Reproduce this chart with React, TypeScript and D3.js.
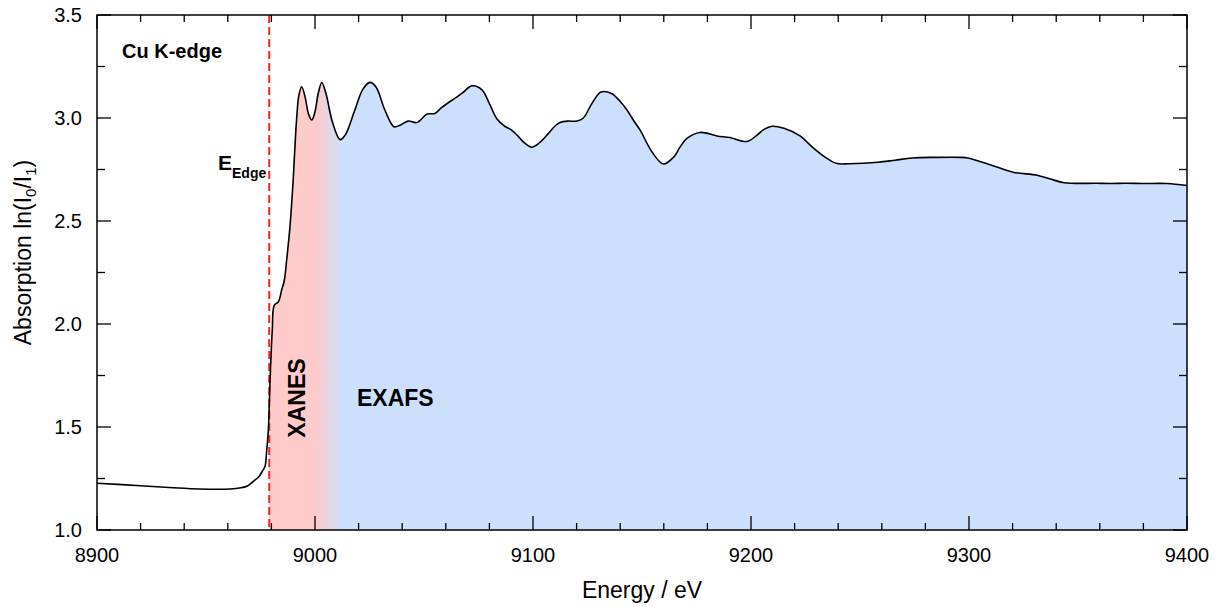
import React from "react";
import * as d3 from "d3";

const energy = [
  8900, 8920, 8935, 8947, 8961, 8966, 8969, 8972.5, 8974.3, 8976.1, 8977.1, 8977.8, 8978.6, 8979.4,
  8980.4, 8981.3, 8983.2, 8984.7, 8985.9, 8987.0, 8988.5, 8990.0, 8990.8, 8991.6, 8992.6, 8993.9,
  8995.5, 8997, 8998.5, 9000, 9001.5, 9003.1, 9005, 9008, 9011.5, 9014, 9018, 9022, 9025.2, 9028,
  9032, 9036.2, 9039, 9042.7, 9046.7, 9051.4, 9055, 9058, 9061.9, 9066.1, 9068, 9071.9, 9076.6,
  9080, 9083.5, 9087, 9089.9, 9092.7, 9096, 9099.4, 9103, 9106.4, 9110, 9112.4, 9116, 9120.2,
  9123.1, 9127, 9131.2, 9136.2, 9140, 9143.1, 9146, 9149.1, 9154.6, 9159.8, 9164.7, 9167.5,
  9170.6, 9176.6, 9184.4, 9190.4, 9198.2, 9202.8, 9206, 9209.6, 9215.1, 9222.5, 9228, 9234, 9239,
  9245, 9258.3, 9266, 9273.9, 9285, 9295.9, 9299.5, 9302.8, 9312, 9320.2, 9331.2, 9337, 9343.6,
  9358.7, 9365, 9372, 9380, 9390.8, 9400,
];

const absorption = [
  1.227, 1.215, 1.205, 1.199, 1.199, 1.205, 1.214, 1.243, 1.26, 1.29, 1.31, 1.38, 1.485, 1.73,
  1.97, 2.09, 2.108, 2.165, 2.21, 2.31, 2.47, 2.7, 2.86, 3.0, 3.11, 3.152,
  3.1, 3.02, 2.99, 3.03, 3.12, 3.172, 3.12, 2.98, 2.895, 2.92, 3.03, 3.14, 3.173, 3.15,
  3.04, 2.958, 2.965, 2.985, 2.978, 3.019, 3.022, 3.05, 3.08, 3.11, 3.125, 3.156, 3.137,
  3.07, 2.995, 2.96, 2.944, 2.917, 2.88, 2.858, 2.88, 2.917, 2.96, 2.978, 2.985, 2.985,
  3.0, 3.07, 3.126, 3.118, 3.08, 3.039, 2.99, 2.942, 2.835, 2.777, 2.812, 2.86,
  2.901, 2.93, 2.913, 2.905, 2.886, 2.917, 2.945, 2.96, 2.95, 2.913, 2.86, 2.81, 2.78,
  2.778, 2.785, 2.795, 2.806, 2.809, 2.809, 2.806, 2.796, 2.765, 2.737, 2.722, 2.705, 2.686,
  2.683, 2.682, 2.683, 2.682, 2.682, 2.672,
];

const xTickLabels = [8900, 9000, 9100, 9200, 9300, 9400];
const yTickLabels = [1.0, 1.5, 2.0, 2.5, 3.0, 3.5];
const edgeEnergy = 8979;
const xanesEnd = 9000;
const exafsStart = 9013;

const W = 1221;
const H = 607;
const L = 97, R = 1187, T = 15, B = 530;
const FONT = "'Liberation Sans', Arial, Helvetica, sans-serif";

export default function App() {
  const x = d3.scaleLinear().domain([8900, 9400]).range([L, R]);
  const y = d3.scaleLinear().domain([1.0, 3.5]).range([B, T]);
  const pts = energy.map((e, i) => [e, absorption[i]] as [number, number]);
  const curve = d3.curveCatmullRom.alpha(0.5);
  const line = d3.line<[number, number]>().x(d => x(d[0])).y(d => y(d[1])).curve(curve);
  const area = d3.area<[number, number]>().x(d => x(d[0])).y0(y(1.0)).y1(d => y(d[1])).curve(curve);

  const xMinor = d3.range(8900, 9400.1, 20).filter(v => v % 100 !== 0);
  const yMinor = d3.range(1.25, 3.5, 0.5);

  return (
    <div style={{ position: "absolute", left: 0, top: 0 }}>
      <svg width={W} height={H} style={{ display: "block", background: "#fff" }}>
        <defs>
          <linearGradient id="regionGrad" gradientUnits="userSpaceOnUse" x1={x(xanesEnd)} x2={x(exafsStart)} y1={0} y2={0}>
            <stop offset="0" stopColor="#ffcaca" />
            <stop offset="1" stopColor="#cce0fd" />
          </linearGradient>
          <clipPath id="edgeClip">
            <rect x={x(edgeEnergy)} y={T} width={R - x(edgeEnergy)} height={B - T} />
          </clipPath>
        </defs>
        <path d={area(pts) || ""} fill="url(#regionGrad)" clipPath="url(#edgeClip)" />
        <line x1={x(edgeEnergy)} x2={x(edgeEnergy)} y1={T} y2={B} stroke="#ff2222" strokeWidth={2} strokeDasharray="8,4" />
        <path d={line(pts) || ""} fill="none" stroke="#000" strokeWidth={1.6} strokeLinejoin="round" />

        {/* ticks */}
        {xTickLabels.map(v => (
          <g key={"xt" + v}>
            <line x1={x(v)} x2={x(v)} y1={B} y2={B - 14} stroke="#000" strokeWidth={1.3} />
            <line x1={x(v)} x2={x(v)} y1={T} y2={T + 14} stroke="#000" strokeWidth={1.3} />
            <text x={x(v)} y={562} textAnchor="middle" fontFamily={FONT} fontSize={20} fill="#000">{v}</text>
          </g>
        ))}
        {xMinor.map(v => (
          <g key={"xm" + v}>
            <line x1={x(v)} x2={x(v)} y1={B} y2={B - 7} stroke="#000" strokeWidth={1.3} />
            <line x1={x(v)} x2={x(v)} y1={T} y2={T + 7} stroke="#000" strokeWidth={1.3} />
          </g>
        ))}
        {yTickLabels.map(v => (
          <g key={"yt" + v}>
            <line x1={L} x2={L + 14} y1={y(v)} y2={y(v)} stroke="#000" strokeWidth={1.3} />
            <line x1={R} x2={R - 14} y1={y(v)} y2={y(v)} stroke="#000" strokeWidth={1.3} />
            <text x={82} y={y(v) + 7} textAnchor="end" fontFamily={FONT} fontSize={20} fill="#000">{v.toFixed(1)}</text>
          </g>
        ))}
        {yMinor.map(v => (
          <g key={"ym" + v}>
            <line x1={L} x2={L + 8} y1={y(v)} y2={y(v)} stroke="#000" strokeWidth={1.3} />
            <line x1={R} x2={R - 8} y1={y(v)} y2={y(v)} stroke="#000" strokeWidth={1.3} />
          </g>
        ))}
        <rect x={L} y={T} width={R - L} height={B - T} fill="none" stroke="#000" strokeWidth={1.5} />

        {/* axis titles */}
        <text x={(L + R) / 2} y={598} textAnchor="middle" fontFamily={FONT} fontSize={23} fill="#000">Energy / eV</text>
        <text transform={`translate(31,${(T + B) / 2 - 20}) rotate(-90)`} textAnchor="middle" fontFamily={FONT} fontSize={23} fill="#000">
          Absorption ln(I<tspan fontSize={15} dy={5}>0</tspan><tspan dy={-5}>/I</tspan><tspan fontSize={15} dy={5}>1</tspan><tspan dy={-5}>)</tspan>
        </text>

        {/* annotations */}
        <text x={122} y={58} fontFamily={FONT} fontSize={20} fontWeight="bold" fill="#000">Cu K-edge</text>
        <text x={218} y={170} fontFamily={FONT} fontSize={21} fontWeight="bold" fill="#000">
          E<tspan fontSize={14} dy={8}>Edge</tspan>
        </text>
        <text transform={`translate(305,398) rotate(-90)`} textAnchor="middle" fontFamily={FONT} fontSize={23} fontWeight="bold" fill="#000">XANES</text>
        <text x={357} y={406} fontFamily={FONT} fontSize={23} fontWeight="bold" fill="#000">EXAFS</text>
      </svg>
    </div>
  );
}
